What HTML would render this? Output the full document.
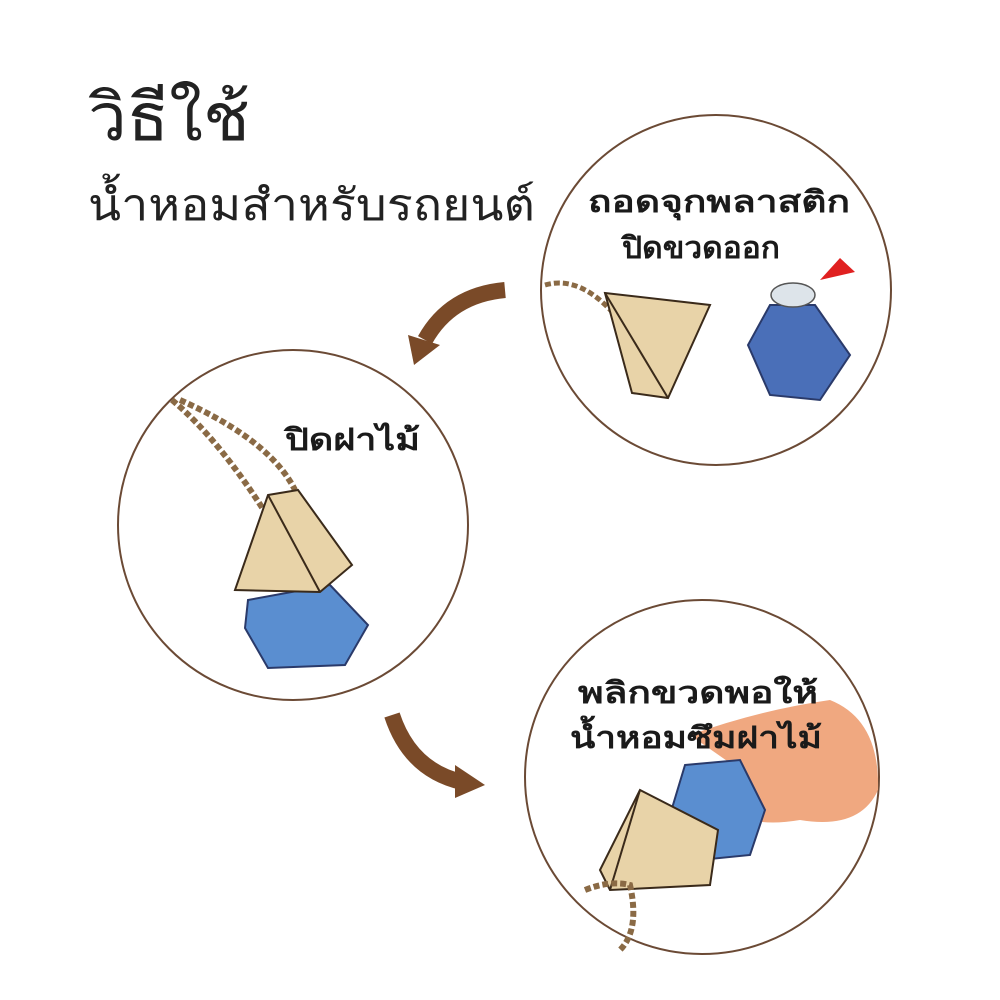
<!DOCTYPE html>
<html><head><meta charset="utf-8"><style>
html,body{margin:0;padding:0;background:#fff;width:1000px;height:1000px;overflow:hidden}
svg{display:block}
text{font-family:"DejaVu Sans","Liberation Sans",sans-serif}
</style></head><body>
<svg width="1000" height="1000" viewBox="0 0 1000 1000">
<rect width="1000" height="1000" fill="#fff"/>
<text x="88" y="140" font-size="66" fill="#222" font-weight="300" textLength="162" lengthAdjust="spacingAndGlyphs">วิธีใช้</text>
<text x="88" y="220" font-size="44" fill="#222" font-weight="300" textLength="447" lengthAdjust="spacingAndGlyphs">น้ำหอมสำหรับรถยนต์</text>

<circle cx="716" cy="290" r="175" fill="#fff" stroke="#6b4a35" stroke-width="2"/>
<circle cx="293" cy="525" r="175" fill="#fff" stroke="#6b4a35" stroke-width="2"/>
<circle cx="702" cy="777" r="177" fill="#fff" stroke="#6b4a35" stroke-width="2"/>

<path d="M505 290 Q450 295 425 340" fill="none" stroke="#7a4a28" stroke-width="16"/>
<polygon points="408,335 440,345 414,365" fill="#7a4a28"/>
<path d="M392 715 Q410 770 462 782" fill="none" stroke="#7a4a28" stroke-width="16"/>
<polygon points="455,765 485,785 455,798" fill="#7a4a28"/>

<path d="M545 285 Q580 275 615 315" fill="none" stroke="#8a6a45" stroke-width="5" stroke-dasharray="6 3"/>
<polygon points="605,293 710,305 668,398 632,393" fill="#e8d3a8" stroke="#3a2a1a" stroke-width="2"/>
<line x1="605" y1="293" x2="668" y2="398" stroke="#3a2a1a" stroke-width="2"/>
<polygon points="770,305 815,305 850,355 820,400 770,395 748,345" fill="#4a6fb8" stroke="#2a3a6a" stroke-width="2"/>
<ellipse cx="793" cy="295" rx="22" ry="12" fill="#dde4ea" stroke="#555" stroke-width="1.5"/>
<polygon points="820,280 840,258 855,272" fill="#e02020"/>
<text x="588" y="212" font-size="30" font-weight="bold" fill="#1a1a1a" textLength="262" lengthAdjust="spacingAndGlyphs">ถอดจุกพลาสติก</text>
<text x="622" y="258" font-size="30" font-weight="bold" fill="#1a1a1a" textLength="158" lengthAdjust="spacingAndGlyphs">ปิดขวดออก</text>

<path d="M172 400 Q220 440 270 520" fill="none" stroke="#8a6a45" stroke-width="6" stroke-dasharray="6 3"/>
<path d="M180 400 Q270 440 295 490" fill="none" stroke="#8a6a45" stroke-width="6" stroke-dasharray="6 3"/>
<polygon points="248,600 330,585 368,625 345,665 268,668 245,628" fill="#5a8ed0" stroke="#2a3a6a" stroke-width="2"/>
<polygon points="268,495 298,490 352,565 320,592 235,590" fill="#e8d3a8" stroke="#3a2a1a" stroke-width="2"/>
<line x1="268" y1="495" x2="320" y2="592" stroke="#3a2a1a" stroke-width="2"/>
<text x="285" y="450" font-size="30" font-weight="bold" fill="#1a1a1a" textLength="135" lengthAdjust="spacingAndGlyphs">ปิดฝาไม้</text>

<path d="M690 735 Q760 710 830 700 Q880 720 878 790 Q860 830 800 820 Q740 830 725 800 Q720 780 740 770 Z" fill="#f0a880"/>
<polygon points="685,765 740,760 765,810 750,855 700,860 670,815" fill="#5a8ed0" stroke="#2a3a6a" stroke-width="2"/>
<polygon points="640,790 718,830 710,885 610,890 600,870" fill="#e8d3a8" stroke="#3a2a1a" stroke-width="2"/>
<line x1="640" y1="790" x2="610" y2="890" stroke="#3a2a1a" stroke-width="2"/>
<path d="M585 890 Q610 880 630 885 Q640 930 620 950" fill="none" stroke="#8a6a45" stroke-width="6" stroke-dasharray="6 3"/>
<text x="578" y="703" font-size="30" font-weight="bold" fill="#1a1a1a" textLength="240" lengthAdjust="spacingAndGlyphs">พลิกขวดพอให้</text>
<text x="570" y="748" font-size="30" font-weight="bold" fill="#1a1a1a" textLength="252" lengthAdjust="spacingAndGlyphs">น้ำหอมซึมฝาไม้</text>
</svg>
</body></html>
